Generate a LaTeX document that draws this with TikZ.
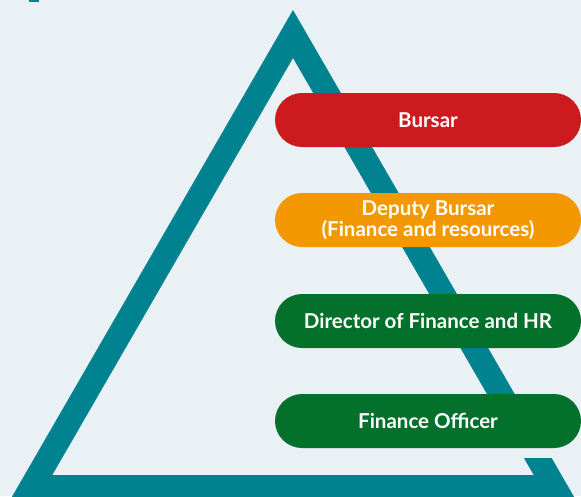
\documentclass[tikz,border=0pt]{standalone}
\usepackage{fontspec}
\setmainfont{Lato}
\definecolor{bg}{HTML}{E9F1F5}
\definecolor{teal}{HTML}{008291}
\definecolor{bred}{HTML}{CC1A1F}
\definecolor{borange}{HTML}{F39800}
\definecolor{bgreen}{HTML}{03712B}
\tikzset{
  pill/.style={fill=#1, rounded corners=27pt, minimum width=306pt, minimum height=54pt,
    inner sep=0pt, text=white, font=\bfseries\fontsize{20.5}{21.5}\selectfont, align=center},
}
\begin{document}
\begin{tikzpicture}[x=1pt,y=-1pt]
\useasboundingbox (0,0) rectangle (581,496);
\clip (0,0) rectangle (581,496);
\fill[bg] (0,0) rectangle (581,496);
% small mark top-left
\fill[teal] (29,0) rectangle (39,1.7);
% triangle frame
\fill[teal, even odd rule] (293,10) -- (575.3,499) -- (10.7,499) -- cycle
  (293,58) -- (533.7,475) -- (52.3,475) -- cycle;
% gap patch below last box
\fill[bg] (480,447) rectangle (581,458);
% boxes
\node[pill=bred] (b1) at (428,120) {Bursar};
\node[pill=borange] (b2) at (428,220) {Deputy Bursar\\(Finance and resources)};
\node[pill=bgreen] (b3) at (428,321) {Director of Finance and HR};
\node[pill=bgreen] (b4) at (428,421) {Finance Officer};
\end{tikzpicture}
\end{document}
